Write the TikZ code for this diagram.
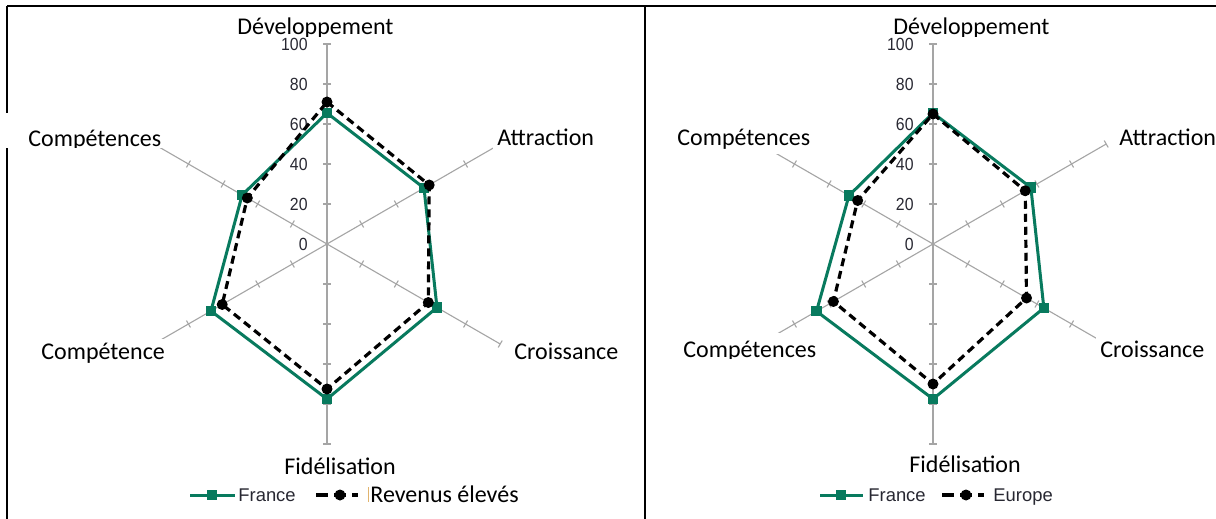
\documentclass[tikz,border=0pt]{standalone}
\usepackage{fontspec}
\setmainfont{Carlito}
\newfontfamily\calib{Carlito}
\newfontfamily\arialn[FakeStretch=0.9]{Liberation Sans}
\newfontfamily\arialf{Liberation Sans}
\usetikzlibrary{calc}
\definecolor{fgreen}{RGB}{8,122,94}
\definecolor{axisgray}{RGB}{165,165,165}
\definecolor{tickorange}{RGB}{225,180,110}
\definecolor{labdark}{RGB}{40,40,50}
\tikzset{
 axisline/.style={draw=axisgray, line width=0.55pt},
 ticklab/.style={font=\arialn\fontsize{8.8}{9}\selectfont, text=labdark, anchor=east, inner sep=0pt},
 catlab/.style={font=\calib\fontsize{12}{14}\selectfont, fill=white, inner sep=2pt, anchor=base west},
 catlabnf/.style={font=\calib\fontsize{12}{14}\selectfont, inner sep=0pt, anchor=base west},
 franceline/.style={draw=fgreen, line width=1.5pt, line join=miter},
 otherline/.style={draw=black, line width=1.6pt, dash pattern=on 4pt off 2.5pt},
 legdash/.style={draw=black, line width=1.6pt, dash pattern=on 6pt off 3pt},
 sqmark/.style={fill=fgreen, minimum size=5.2pt, inner sep=0pt, draw=none, rectangle},
 dotmark/.style={fill=black, circle, minimum size=5.5pt, inner sep=0pt},
 legtext/.style={font=\arialf\fontsize{9.2}{10}\selectfont, text=labdark, anchor=base west, inner sep=0pt},
 frameline/.style={draw=black, line width=1pt},
}
\begin{document}
\begin{tikzpicture}[x=0.5pt,y=-0.5pt]
\fill[white] (0,0) rectangle (1216,519);
\useasboundingbox (0,0) rectangle (1216,519);
% frame
\draw[frameline] (7,6) -- (1216,6);
\draw[frameline] (7,6) -- (7,519);
\draw[frameline] (645,6) -- (645,519);
% grids
\foreach \cx in {327,933} {
 \begin{scope}[shift={(\cx,244)}]
  \foreach \a in {-90,-30,30,90,150,210} {
    \draw[axisline] (0,0) -- (\a:200);
    \foreach \r in {40,80,...,200} {
      \draw[axisline] ($(\a:\r)+({\a+90}:4)$) -- ($(\a:\r)+({\a-90}:4)$);
    }
  }
  \foreach \v in {0,20,...,100} {
    \node[ticklab] (tl\cx-\v) at (-19,-2*\v) {\v};
  }
 \end{scope}
}
% left chart data
\begin{scope}[shift={(327,244)}]
 \foreach \a/\r [count=\i] in {-90/131,-30/112,30/127,90/155,150/134,210/98}
   \coordinate (lf\i) at (\a:\r);
 \foreach \a/\r [count=\i] in {-90/142,-30/118,30/117,90/145,150/121,210/92}
   \coordinate (lr\i) at (\a:\r);
 \draw[franceline] (lf1) -- (lf2) -- (lf3) -- (lf4) -- (lf5) -- (lf6) -- cycle;
 \foreach \i in {1,...,6} \node[sqmark] (lfm\i) at (lf\i) {};
 \draw[otherline] (lr1) -- (lr2) -- (lr3) -- (lr4) -- (lr5) -- (lr6) -- cycle;
 \foreach \i in {1,...,6} \node[dotmark] (lrm\i) at (lr\i) {};
\end{scope}
% right chart data
\begin{scope}[shift={(933,244)}]
 \foreach \a/\r [count=\i] in {-90/131,-30/113,30/128,90/155,150/134.5,210/97}
   \coordinate (rf\i) at (\a:\r);
 \foreach \a/\r [count=\i] in {-90/130,-30/106.5,30/108,90/140,150/115,210/87}
   \coordinate (re\i) at (\a:\r);
 \draw[franceline] (rf1) -- (rf2) -- (rf3) -- (rf4) -- (rf5) -- (rf6) -- cycle;
 \foreach \i in {1,...,6} \node[sqmark] (rfm\i) at (rf\i) {};
 \draw[otherline] (re1) -- (re2) -- (re3) -- (re4) -- (re5) -- (re6) -- cycle;
 \foreach \i in {1,...,6} \node[dotmark] (rem\i) at (re\i) {};
\end{scope}
% left labels
\begin{scope}
 \clip (230,8) rectangle (400,37);
 \fill[white] (230,8) rectangle (400,37);
 \node[catlabnf] (lDev) at (237,35) {Développement};
\end{scope}
\begin{scope}
 \clip (3,113) rectangle (166,148);
 \fill[white] (3,113) rectangle (166,148);
 \node[catlabnf] (lCompU) at (28,147) {Compétences};
\end{scope}
\node[catlab] (lAttr) at (493,146) {Attraction};
\node[catlab] (lCompL) at (37,359) {Compétence};
\node[catlab] (lCrois) at (510,359) {Croissance};
\node[catlab] (lFid) at (280,474) {Fidélisation};
% right labels
\begin{scope}
 \clip (886,8) rectangle (1054,37);
 \fill[white] (886,8) rectangle (1054,37);
 \node[catlabnf] (rDev) at (893,35) {Développement};
\end{scope}
\node[catlab] (rCompU) at (673,146) {Compétences};
\node[catlab] (rAttr) at (1115,146) {Attraction};
\begin{scope}
 \clip (678,333) rectangle (820,358);
 \fill[white] (678,333) rectangle (820,358);
 \node[catlabnf] (rCompL) at (683,357) {Compétences};
\end{scope}
\node[catlab] (rCrois) at (1096,357) {Croissance};
\node[catlab] (rFid) at (905,472) {Fidélisation};
% left legend
\coordinate (lg1a) at (190,495); \coordinate (lg1b) at (235,495);
\draw[franceline] (lg1a) -- (lg1b);
\node[sqmark] (lg1m) at (212,495) {};
\node[legtext] (lg1t) at (238,501.5) {France};
\coordinate (lg2a) at (316,495); \coordinate (lg2b) at (358,495);
\draw[legdash] (lg2a) -- (lg2b);
\node[dotmark] (lg2m) at (340,495) {};
\coordinate (lgoa) at (368,487); \coordinate (lgob) at (368,502);
\draw[tickorange, line width=0.4pt] (lgoa) -- (lgob);
\node[catlabnf] (lg2t) at (370,502) {Revenus élevés};
% right legend
\coordinate (rg1a) at (820,495); \coordinate (rg1b) at (863,495);
\draw[franceline] (rg1a) -- (rg1b);
\node[sqmark] (rg1m) at (841,495) {};
\node[legtext] (rg1t) at (868,501.5) {France};
\coordinate (rg2a) at (942,495); \coordinate (rg2b) at (984,495);
\draw[legdash] (rg2a) -- (rg2b);
\node[dotmark] (rg2m) at (966,495) {};
\node[legtext] (rg2t) at (993,501.5) {Europe};
\end{tikzpicture}
\end{document}
